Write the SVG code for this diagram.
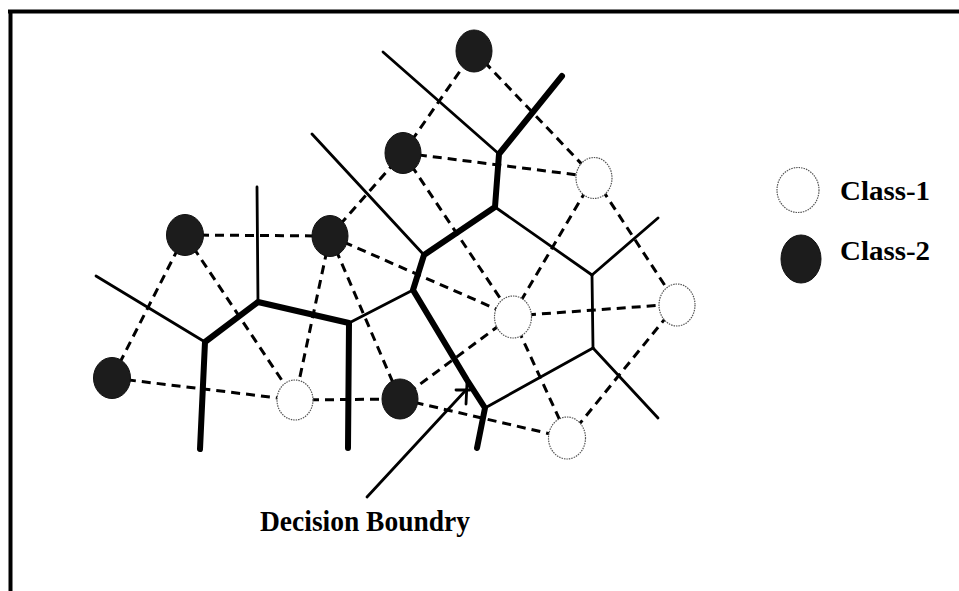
<svg xmlns="http://www.w3.org/2000/svg" width="959" height="591" viewBox="0 0 959 591">
  <style>
    .frame { stroke: #000; stroke-width: 4; fill: none; }
    .cell { stroke: #000; stroke-width: 2.8; fill: none; stroke-linecap: round; }
    .boundary { stroke: #000; stroke-width: 6; fill: none; stroke-linecap: round; stroke-linejoin: round; }
    .link { stroke: #000; stroke-width: 3; fill: none; stroke-dasharray: 9 6; }
    .class1 { fill: #fff; stroke: #555; stroke-width: 1.2; stroke-dasharray: 1.5 1; }
    .class2 { fill: #1c1c1c; stroke: #111; stroke-width: 1; }
    .label { font-family: "Liberation Serif", "Times New Roman", serif; font-weight: bold; fill: #000; }
  </style>

  <!-- frame -->
  <g id="frame">
    <line class="frame" x1="8" y1="11.5" x2="959" y2="11.5"/>
    <line class="frame" x1="10.5" y1="10" x2="10.5" y2="591"/>
  </g>

  <g id="connectors">
    <!-- neighbour links between samples -->
    <g id="links">
      <line class="link" x1="185" y1="235" x2="330" y2="236"/>
      <line class="link" x1="185" y1="235" x2="112" y2="378"/>
      <line class="link" x1="185" y1="235" x2="295" y2="400"/>
      <line class="link" x1="112" y1="378" x2="295" y2="400"/>
      <line class="link" x1="330" y1="236" x2="295" y2="400"/>
      <line class="link" x1="330" y1="236" x2="400" y2="399"/>
      <line class="link" x1="330" y1="236" x2="403" y2="153"/>
      <line class="link" x1="330" y1="236" x2="512" y2="316"/>
      <line class="link" x1="295" y1="400" x2="400" y2="399"/>
      <line class="link" x1="403" y1="153" x2="474" y2="51"/>
      <line class="link" x1="403" y1="153" x2="594" y2="177"/>
      <line class="link" x1="403" y1="153" x2="512" y2="316"/>
      <line class="link" x1="474" y1="51" x2="594" y2="177"/>
      <line class="link" x1="594" y1="177" x2="512" y2="316"/>
      <line class="link" x1="594" y1="177" x2="677" y2="304"/>
      <line class="link" x1="512" y1="316" x2="677" y2="304"/>
      <line class="link" x1="512" y1="316" x2="400" y2="399"/>
      <line class="link" x1="512" y1="316" x2="568" y2="438"/>
      <line class="link" x1="677" y1="304" x2="568" y2="438"/>
      <line class="link" x1="400" y1="399" x2="568" y2="438"/>
    </g>

    <!-- cell edges -->
    <g id="cells">
      <line class="cell" x1="96" y1="276" x2="205" y2="342"/>
      <line class="cell" x1="258" y1="302" x2="257" y2="187"/>
      <line class="cell" x1="349" y1="323" x2="413" y2="290"/>
      <line class="cell" x1="312" y1="134" x2="424" y2="255"/>
      <line class="cell" x1="383" y1="52" x2="499" y2="154"/>
      <line class="cell" x1="495" y1="207" x2="592" y2="275"/>
      <line class="cell" x1="592" y1="275" x2="658" y2="218"/>
      <line class="cell" x1="592" y1="275" x2="593" y2="348"/>
      <line class="cell" x1="593" y1="348" x2="658" y2="418"/>
      <line class="cell" x1="593" y1="348" x2="485" y2="408"/>
    </g>

    <!-- decision boundary -->
    <g id="boundary">
      <polyline class="boundary" points="200,449 205,342 258,302 349,323 348,448"/>
      <polyline class="boundary" points="477,448 485,408 467,380 413,290 424,255 495,207 499,154 562,76"/>
    </g>

    <!-- pointer to the boundary -->
    <g id="pointer">
      <line class="cell" x1="367" y1="497" x2="466" y2="390"/>
      <line class="cell" stroke-width="3.5" x1="456" y1="390" x2="470" y2="390"/>
      <line class="cell" stroke-width="3.5" x1="467" y1="383" x2="466" y2="404"/>
    </g>
  </g>

  <!-- Class-2 samples -->
  <g id="n-a"><ellipse class="class2" cx="474" cy="51" rx="18" ry="21"/></g>
  <g id="n-b"><ellipse class="class2" cx="403" cy="153" rx="18" ry="20.5"/></g>
  <g id="n-c"><ellipse class="class2" cx="330" cy="236" rx="18" ry="20.5"/></g>
  <g id="n-d"><ellipse class="class2" cx="185" cy="235" rx="18.5" ry="20.5"/></g>
  <g id="n-e"><ellipse class="class2" cx="112" cy="378" rx="18.5" ry="20.5"/></g>
  <g id="n-f"><ellipse class="class2" cx="400" cy="399" rx="18" ry="20"/></g>

  <!-- Class-1 samples -->
  <g id="n-g"><ellipse class="class1" cx="594" cy="178" rx="18" ry="20.5"/></g>
  <g id="n-h"><ellipse class="class1" cx="513" cy="317" rx="18.5" ry="21"/></g>
  <g id="n-i"><ellipse class="class1" cx="677" cy="305" rx="18" ry="21"/></g>
  <g id="n-j"><ellipse class="class1" cx="567" cy="438" rx="18.5" ry="21"/></g>
  <g id="n-k"><ellipse class="class1" cx="295" cy="400" rx="18" ry="20"/></g>

  <!-- legend -->
  <g id="legend-class1">
    <ellipse class="class1" cx="798" cy="190" rx="21" ry="22.5"/>
    <text class="label" x="840" y="200" font-size="27" textLength="90" lengthAdjust="spacingAndGlyphs">Class-1</text>
  </g>
  <g id="legend-class2">
    <ellipse class="class2" cx="801" cy="259" rx="20" ry="24"/>
    <text class="label" x="840" y="260" font-size="27" textLength="90" lengthAdjust="spacingAndGlyphs">Class-2</text>
  </g>

  <!-- caption -->
  <g id="caption">
    <text class="label" x="260" y="531" font-size="30" textLength="210" lengthAdjust="spacingAndGlyphs">Decision Boundry</text>
  </g>
</svg>
